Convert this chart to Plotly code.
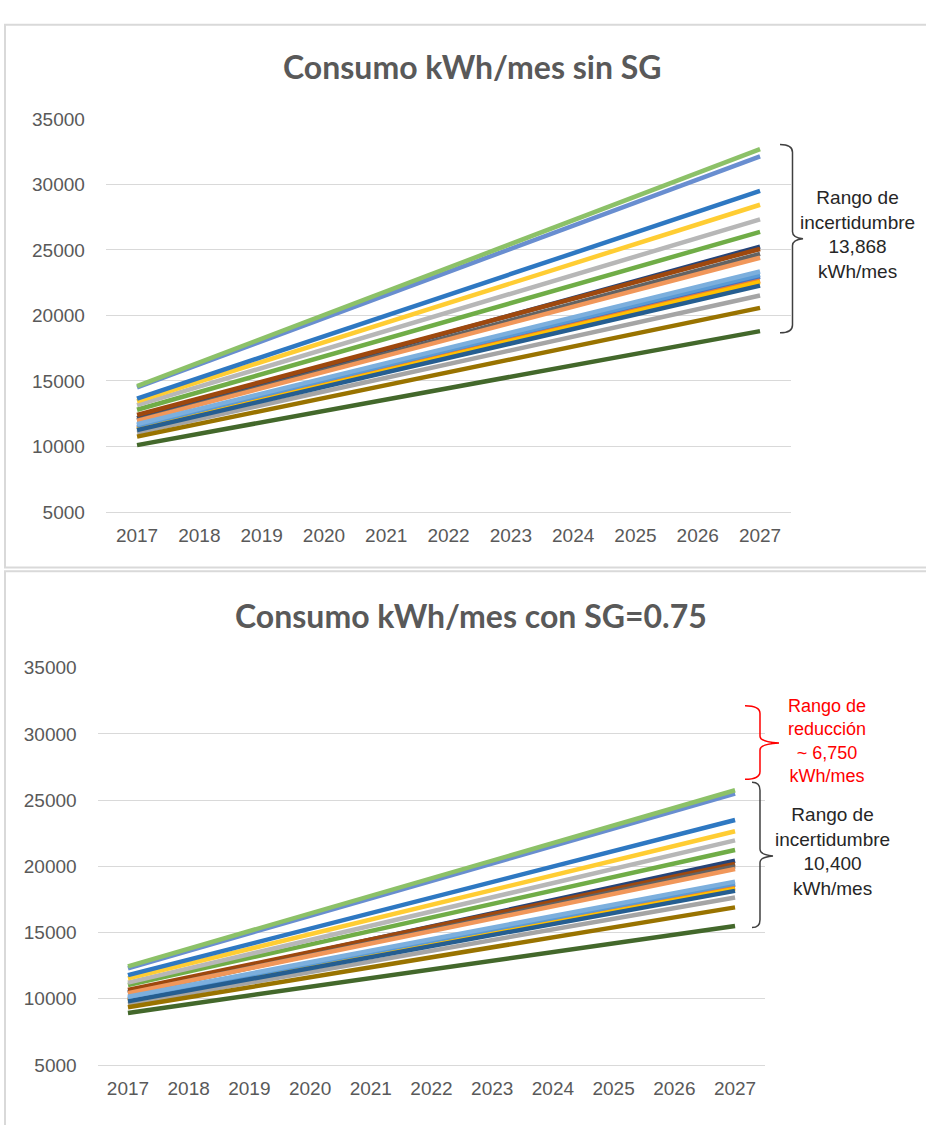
import plotly.graph_objects as go

W, H = 926, 1125

years = ["2017", "2018", "2019", "2020", "2021", "2022", "2023", "2024", "2025", "2026", "2027"]
end_years = ["2017", "2027"]

# values read at 2017 and 2027 for each series (series order = Excel palette order)
sin_sg_2017 = [11450, 11350, 11050, 11300, 11600, 12800, 12150, 12400, 12000, 10750,
               11250, 10100, 14500, 11950, 13150, 13450, 11700, 14600, 13650]
sin_sg_2027 = [22950, 22650, 21525, 22550, 23100, 26375, 25250, 25075, 24700, 20575,
               22275, 18800, 32150, 24400, 27330, 28450, 23350, 32700, 29500]
con_sg_2017 = [9950, 9900, 9600, 9850, 10050, 11040, 10500, 10670, 10400, 9360,
               9800, 8930, 12300, 10420, 11220, 11540, 10150, 12450, 11780]
con_sg_2027 = [18600, 18400, 17650, 18300, 18700, 21240, 20420, 20180, 20000, 16900,
               18150, 15500, 25500, 19800, 21960, 22650, 18850, 25750, 23500]

series_colors = ["#4472C4", "#ED7D31", "#A5A5A5", "#FFC000", "#5B9BD5", "#70AD47",
                 "#264478", "#9E480E", "#636363", "#997300", "#255E91", "#43682B",
                 "#698ED0", "#F1975A", "#B7B7B7", "#FFCD33", "#7CAFDD", "#8CC168",
                 "#2E78C2"]

y_ticks = [5000, 10000, 15000, 20000, 25000, 30000, 35000]
y_tick_labels = ["5000", "10000", "15000", "20000", "25000", "30000", "35000"]

title_top = "Consumo kWh/mes sin SG"
title_bottom = "Consumo kWh/mes con SG=0.75"
note_top = "Rango de<br>incertidumbre<br>13,868<br>kWh/mes"
note_bottom = "Rango de<br>incertidumbre<br>10,400<br>kWh/mes"
note_red = "Rango de<br>reducción<br>~ 6,750<br>kWh/mes"


def px(x):
    return x / W


def py(y):
    return 1 - y / H


fig = go.Figure()
for i, c in enumerate(series_colors):
    fig.add_trace(go.Scatter(x=end_years, y=[sin_sg_2017[i], sin_sg_2027[i]], mode="lines",
                             line=dict(color=c, width=4.5), xaxis="x", yaxis="y",
                             showlegend=False, hoverinfo="skip"))
    fig.add_trace(go.Scatter(x=end_years, y=[con_sg_2017[i], con_sg_2027[i]], mode="lines",
                             line=dict(color=c, width=4.5), xaxis="x2", yaxis="y2",
                             showlegend=False, hoverinfo="skip"))

tick_font = dict(family="Liberation Sans, Arial, sans-serif", size=19, color="#595959")

xcommon = dict(type="category", categoryorder="array", categoryarray=years,
               tickvals=years, range=[-0.5, 10.5], showgrid=False, showline=True,
               linecolor="#d9d9d9", linewidth=1, ticks="", ticklabelstandoff=6,
               tickfont=tick_font, zeroline=False, fixedrange=True)
ycommon = dict(range=[5000, 35000], tickvals=y_ticks, ticktext=y_tick_labels,
               showgrid=True, gridcolor="#d9d9d9",
               gridwidth=1, zeroline=False, showline=False, ticks="",
               ticklabelstandoff=20, tickfont=tick_font, fixedrange=True)

fig.update_layout(
    width=W, height=H,
    margin=dict(l=0, r=0, t=0, b=0),
    paper_bgcolor="white", plot_bgcolor="white",
    xaxis=dict(domain=[px(105.9), px(791.2)], anchor="y", **xcommon),
    yaxis=dict(domain=[py(511.5), py(111)], anchor="x", **ycommon),
    xaxis2=dict(domain=[px(97.6), px(765.4)], anchor="y2", **xcommon),
    yaxis2=dict(domain=[py(1075), py(670.3)], anchor="x2", **ycommon),
)

title_font = dict(family="Lato, Open Sans, sans-serif", size=32, color="#595959")
text_font = dict(family="Liberation Sans, Arial, sans-serif", size=19, color="#262626")
red_font = dict(family="Liberation Sans, Arial, sans-serif", size=18, color="#FF0000")

annotations = [
    dict(text="<b>" + title_top + "</b>", x=px(472), y=py(58), font=title_font),
    dict(text="<b>" + title_bottom + "</b>", x=px(471), y=py(617), font=title_font),
    dict(text=note_top, x=px(857.5), y=py(229), font=text_font),
    dict(text=note_bottom, x=px(832), y=py(857), font=text_font),
    dict(text=note_red, x=px(827), y=py(745), font=red_font),
]
for a in annotations:
    a.update(xref="paper", yref="paper", xanchor="center", yanchor="middle",
             showarrow=False, align="center")
fig.update_layout(annotations=annotations)


def brace(pts_cmds):
    out = []
    for cmd, coords in pts_cmds:
        s = cmd
        for (x, y) in coords:
            s += " %.5f,%.5f" % (px(x), py(y))
        out.append(s)
    return " ".join(out)


def brace_path(x0, xv, xt, ytop, ytip, ybot):
    r = 8
    return brace([
        ("M", [(x0, ytop)]),
        ("Q", [(xv, ytop), (xv, ytop + r)]),
        ("L", [(xv, ytip - 7)]),
        ("Q", [(xv, ytip - 1), (xt, ytip)]),
        ("Q", [(xv, ytip + 1), (xv, ytip + 7)]),
        ("L", [(xv, ybot - r)]),
        ("Q", [(xv, ybot), (x0, ybot)]),
    ])


shapes = [
    dict(type="rect", xref="paper", yref="paper", x0=px(5), x1=px(940), y0=py(15), y1=py(568),
         line=dict(color="#d9d9d9", width=2), fillcolor="rgba(0,0,0,0)", layer="below"),
    dict(type="rect", xref="paper", yref="paper", x0=px(5), x1=px(940), y0=py(572), y1=py(1140),
         line=dict(color="#d9d9d9", width=2), fillcolor="rgba(0,0,0,0)", layer="below"),
    dict(type="path", xref="paper", yref="paper",
         path=brace_path(780, 792.5, 803, 137, 233, 329),
         line=dict(color="#404040", width=1.5)),
    dict(type="path", xref="paper", yref="paper",
         path=brace_path(745, 760, 779, 709, 747, 784),
         line=dict(color="#FF0000", width=1.5)),
    dict(type="path", xref="paper", yref="paper",
         path=brace_path(752, 760, 773, 787, 862, 935),
         line=dict(color="#404040", width=1.5)),
]
fig.update_layout(shapes=shapes)

fig.write_html("out.html")
